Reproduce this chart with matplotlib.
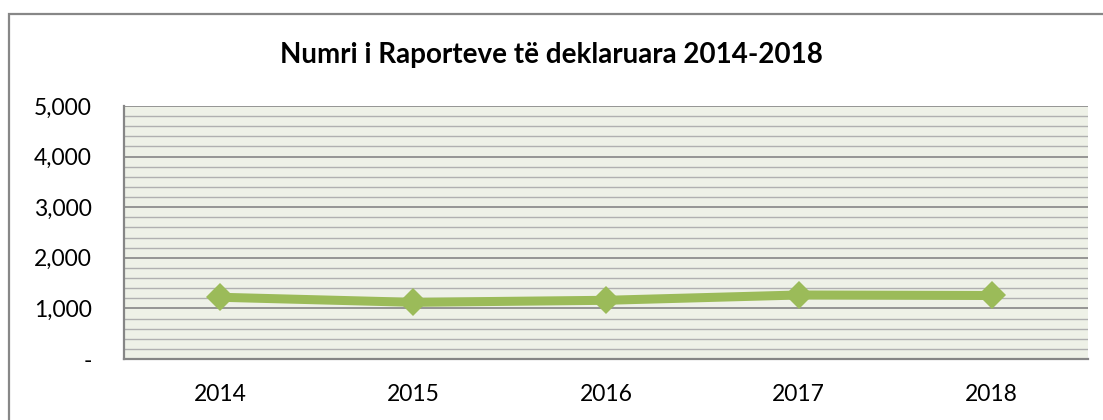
import matplotlib
matplotlib.use("Agg")
import matplotlib.pyplot as plt
from matplotlib.patches import Rectangle
from matplotlib.ticker import MultipleLocator, FuncFormatter

years = ["2014", "2015", "2016", "2017", "2018"]
reports = [1220, 1120, 1160, 1265, 1255]
title = "Numri i Raporteve të deklaruara 2014-2018"

plt.rcParams["font.family"] = ["Lato", "DejaVu Sans"]

fig = plt.figure(figsize=(11.03, 4.2), dpi=100)
ax = fig.add_axes([124 / 1103, 61 / 420, 964 / 1103, 253 / 420])

# outer chart border (right and bottom fall outside the image)
fig.patches.append(Rectangle((9 / 1103, -0.1), 1.2, 1.1 - 14 / 420,
                             transform=fig.transFigure, fill=False,
                             edgecolor="#878787", linewidth=1.6))

ax.set_facecolor("#eef1e7")
x = range(len(years))
ax.plot(x, reports, color="#9bbb59", linewidth=6.5, marker="D",
        markersize=14, markeredgewidth=0, solid_joinstyle="round", zorder=3)

ax.set_xlim(-0.5, len(years) - 0.5)
ax.set_ylim(0, 5000)
ax.set_xticks(list(x))
ax.set_xticklabels(years)
ax.yaxis.set_major_locator(MultipleLocator(1000))
ax.yaxis.set_minor_locator(MultipleLocator(200))
ax.yaxis.set_major_formatter(
    FuncFormatter(lambda v, p: "-" if v == 0 else f"{int(v):,}"))

ax.grid(True, axis="y", which="major", color="#868686", linewidth=1.2)
ax.grid(True, axis="y", which="minor", color="#b0b0b0", linewidth=1.0)
ax.set_axisbelow(True)

for side in ["top", "right"]:
    ax.spines[side].set_visible(False)
for side in ["left", "bottom"]:
    ax.spines[side].set_color("#868686")
    ax.spines[side].set_linewidth(1.6)

ax.tick_params(axis="both", which="both", length=0, labelsize=16.5)
ax.tick_params(axis="y", pad=23)
ax.tick_params(axis="x", pad=18)

fig.text(0.5, 1 - 55 / 420, title, ha="center", va="center",
         fontsize=20, fontweight="bold")

fig.savefig("out.png", dpi=100)
